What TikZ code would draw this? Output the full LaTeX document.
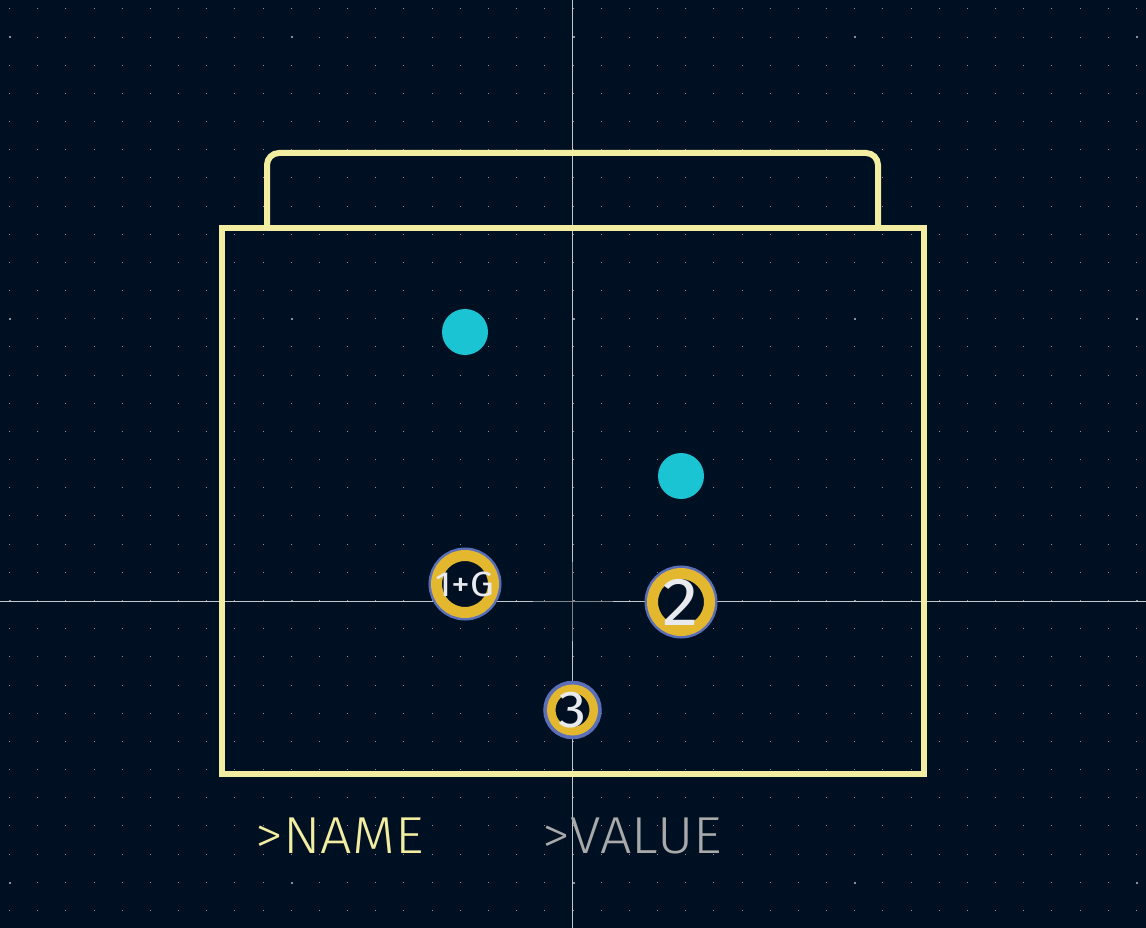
\documentclass[tikz,border=0pt]{standalone}
\usepackage{fontspec}
\newfontfamily\silkfont{Fira Sans Light}[FakeStretch=1.07,LetterSpace=0.5]
\newfontfamily\padfont{Fira Sans}[FakeStretch=1.08]
\definecolor{boardbg}{HTML}{001023}
\definecolor{silk}{HTML}{F2EDA1}
\definecolor{valuegrey}{HTML}{A9A9A9}
\definecolor{padgold}{HTML}{E3B72E}
\definecolor{padblue}{HTML}{5A6FB8}
\definecolor{drillcyan}{HTML}{1AC4D2}
\definecolor{griddot}{HTML}{8A9095}
\definecolor{crossline}{HTML}{C4C8CC}
\definecolor{crossdim}{HTML}{808488}
\definecolor{padtext}{HTML}{E8EAEE}
\tikzset{
  padring/.style={circle, inner sep=0pt, outer sep=0pt, minimum size=57pt, draw=padgold, fill=boardbg, line width=11pt, preaction={draw=padblue, line width=16pt}},
  padsmall/.style={padring, minimum size=42.5pt, line width=8.5pt, preaction={draw=padblue, line width=12pt}},
  padlabel/.style={inner sep=0pt, text=padtext},
  drill/.style={circle, inner sep=0pt, outer sep=0pt, minimum size=46pt, fill=drillcyan},
  silktext/.style={anchor=base west, inner sep=0pt, font=\silkfont\fontsize{52}{52}\selectfont},
  outline/.style={draw=silk, line width=6pt},
  cross/.style={draw=crossline, line width=1pt},
  crossmid/.style={draw=crossdim, line width=1pt},
}
\begin{document}
\begin{tikzpicture}[x=1pt, y=-1pt]
    \fill[boardbg] (0,0) rectangle (1146,928);
    \useasboundingbox (0,0) rectangle (1146,928);
    % grid
    \foreach \i in {-20,...,20} {
      \foreach \j in {-21,...,11} {
        \fill[griddot] ({round(572.5+28.17*\i)},{round(601+28.17*\j)}) rectangle +(1,-1);
      }
    }
    \foreach \i in {-20,-10,...,20} {
      \foreach \j in {-20,-10,0,10} {
        \fill[griddot] ({round(572.5+28.17*\i)-0.5},{round(601+28.17*\j)+0.5}) rectangle +(2,-2);
      }
    }
    % crosshair
    \coordinate (crossT) at (572.5,0);
    \coordinate (crossB) at (572.5,928);
    \coordinate (crossL) at (0,601.5);
    \coordinate (crossR) at (1146,601.5);
    \coordinate (midT) at (572.5,562);
    \coordinate (midB) at (572.5,641);
    \coordinate (midL) at (533,601.5);
    \coordinate (midR) at (613,601.5);
    \draw[cross] (crossT) -- (crossB);
    \draw[cross] (crossL) -- (crossR);
    \draw[crossmid] (midT) -- (midB);
    \draw[crossmid] (midL) -- (midR);
    % courtyard
    \draw[outline, line join=miter] (222,228) rectangle (924,774);
    \draw[outline, rounded corners=12pt] (267,228) -- (267,153) -- (878,153) -- (878,228);
    % drills
    \node[drill] (drillA) at (465,332) {};
    \node[drill] (drillB) at (681,476) {};
    % pads
    \node[padring] (padA) at (465,584) {};
    \node[padring] (padB) at (681,602) {};
    \node[padsmall] (padC) at (572.5,710) {};
    \node[padlabel, font=\padfont\fontsize{35}{35}\selectfont] (labelA) at (padA) {1+G};
    \node[padlabel, font=\padfont\fontsize{68}{68}\selectfont] (labelB) at (padB) {2};
    \node[padlabel, font=\padfont\fontsize{52}{52}\selectfont] (labelC) at (padC) {3};
    % texts
    \node[silktext, text=silk] (nameLabel) at (255,853) {>NAME};
    \node[silktext, text=valuegrey] (valueLabel) at (542,853) {>VALUE};
\end{tikzpicture}
\end{document}
